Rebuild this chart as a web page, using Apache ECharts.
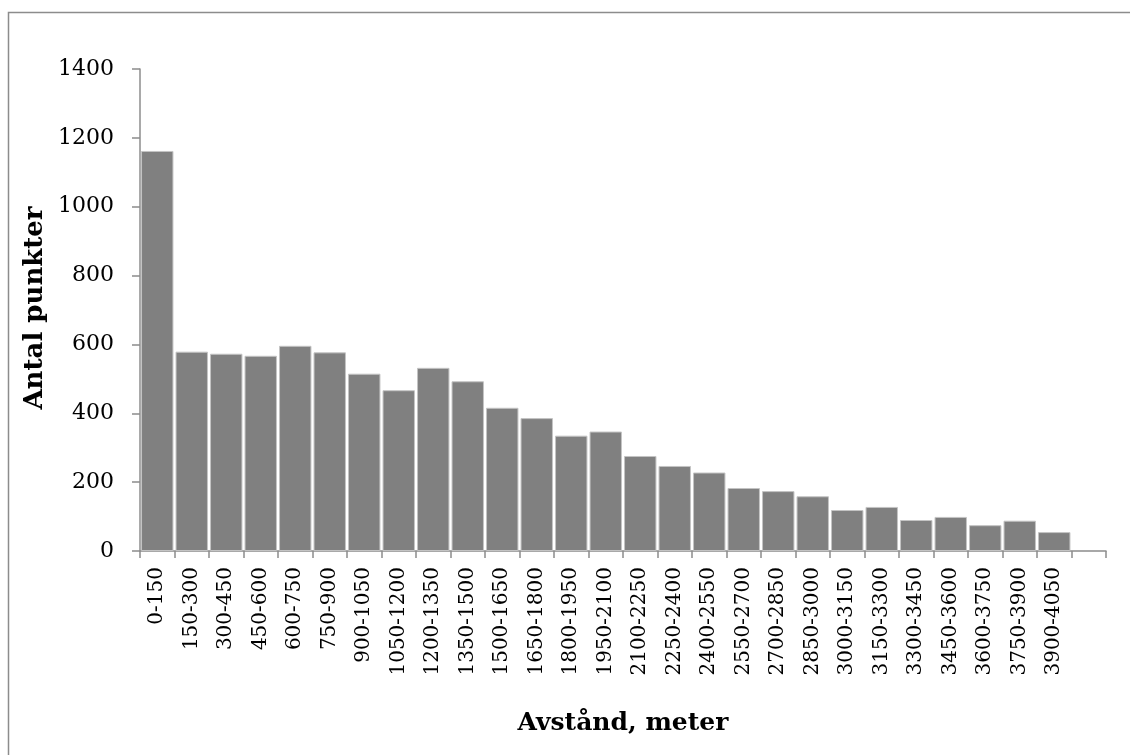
<!DOCTYPE html>
<html>
<head>
<meta charset="utf-8">
<script src="https://cdn.jsdelivr.net/npm/echarts@6/dist/echarts.min.js"></script>
<style>
html,body{margin:0;padding:0;background:#fff;}
#chart{width:1130px;height:755px;}
</style>
</head>
<body>
<div id="chart"></div>
<script>
const categories = ["0-150","150-300","300-450","450-600","600-750","750-900","900-1050","1050-1200","1200-1350","1350-1500","1500-1650","1650-1800","1800-1950","1950-2100","2100-2250","2250-2400","2400-2550","2550-2700","2700-2850","2850-3000","3000-3150","3150-3300","3300-3450","3450-3600","3600-3750","3750-3900","3900-4050",""];
const values = [1162,579,573,567,596,577,515,467,532,493,416,386,335,347,276,247,228,183,174,159,119,128,90,99,75,88,55];
const yTicks = {min:0, max:1400, interval:200};
const xTitle = "Avstånd, meter";
const yTitle = "Antal punkter";

const chart = echarts.init(document.getElementById('chart'));
const serif = 'DejaVu Serif';
chart.setOption({
  animation:false,
  backgroundColor:'#fff',
  graphic:[
    {type:'rect',shape:{x:8.5,y:12.5,width:1300,height:900},style:{fill:'none',stroke:'#8c8c8c',lineWidth:1.5},silent:true},
    {type:'text',x:623,y:723,style:{text:xTitle,font:'bold 25px "DejaVu Serif"',fill:'#000',align:'center',verticalAlign:'middle'},silent:true},
    {type:'text',x:35,y:308,rotation:Math.PI/2,style:{text:yTitle,font:'bold 26px "DejaVu Serif"',fill:'#000',align:'center',verticalAlign:'middle'},silent:true}
  ],
  grid:{left:140,right:24,top:69,bottom:204},
  xAxis:{
    type:'category',
    data:categories,
    axisLine:{lineStyle:{color:'#8c8c8c',width:1.5}},
    axisTick:{show:true,length:7,alignWithLabel:false,lineStyle:{color:'#8c8c8c',width:1.5}},
    axisLabel:{rotate:90,interval:0,margin:16,fontFamily:serif,fontSize:20,color:'#000'},
    splitLine:{show:false}
  },
  yAxis:{
    type:'value',
    min:yTicks.min,max:yTicks.max,interval:yTicks.interval,
    axisLine:{show:true,lineStyle:{color:'#8c8c8c',width:1.5}},
    axisTick:{show:true,length:8,lineStyle:{color:'#8c8c8c',width:1.5}},
    axisLabel:{margin:26,fontFamily:serif,fontSize:22,color:'#000',formatter:v=>String(v)},
    splitLine:{show:false}
  },
  series:[{
    type:'bar',
    data:values,
    barCategoryGap:'6%',
    itemStyle:{color:'#808080',borderColor:'#c4c4c4',borderWidth:1}
  }]
});
</script>
</body>
</html>
